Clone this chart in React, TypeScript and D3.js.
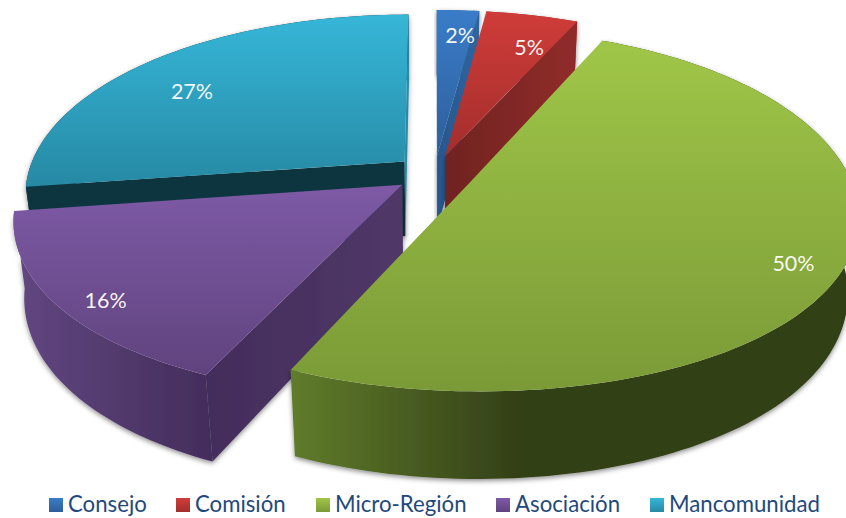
import React from "react";
import * as d3 from "d3";

const categories = ["Consejo", "Comisión", "Micro-Región", "Asociación", "Mancomunidad"];
const shares = [2.1, 4.6, 50, 16, 27.3];

const topColors = [
  ["#3a7cc8", "#2d5f9b"],
  ["#cf3c39", "#a32e2c"],
  ["#a0c648", "#7a9a37"],
  ["#7e5aa6", "#60437e"],
  ["#36b6d8", "#2689a4"],
];
const outerColors = [
  ["#2a5a92", "#2a5a92"],
  ["#8f2b29", "#8f2b29"],
  ["#607c2b", "#333f17"],
  ["#60467f", "#432d5b"],
  ["#11343f", "#11343f"],
];
const startWallColors = [
  ["#2a5a92", "#2a5a92"],
  ["#7a2523", "#7a2523"],
  ["#5a7528", "#5a7528"],
  ["#432d5b", "#503868"],
  ["#11363f", "#11363f"],
];
const endWallColors = [
  ["#28568c", "#2f659f"],
  ["#702321", "#912c2a"],
  ["#5a7528", "#5a7528"],
  ["#432d5b", "#432d5b"],
  ["#2a8ba7", "#2a8ba7"],
];
const labelNudge = [[5, -8], [9, 0], [7, 1], [-9, 0], [4, 2]];

const W = 846;
const H = 518;
const CX = 434.5;
const CY = 173.5;
const RX = 377;
const RY = 174;
const DEPTH = 76;
const PERSP_X = 0.173;
const PERSP_XQ = -0.019;
const PERSP_Y = 0.16;
const PERSP_HX = 0.025;
const PERSP_HY = 0.01;
const EXPLODE = 0.106;
const LABEL_R = 0.85;
const LABEL_H = 0.2;

type P = [number, number];

function project(wx: number, wz: number, h: number): P {
  const sx = 1 / (1 + PERSP_X * wz + PERSP_XQ * wz * wz + PERSP_HX * h);
  const sy = 1 / (1 + PERSP_Y * wz + PERSP_HY * h);
  return [CX + RX * wx * sx, CY - RY * wz * sy + DEPTH * h * sy];
}

const slices = d3.pie<number>().sort(null).value((d) => d)(shares);
const line = d3.line<P>();

function geom(start: number, end: number) {
  const mid = (start + end) / 2;
  const ox = EXPLODE * Math.sin(mid);
  const oz = EXPLODE * Math.cos(mid);
  const at = (a: number, r: number, h: number) =>
    project(ox + r * Math.sin(a), oz + r * Math.cos(a), h);
  const n = Math.max(8, Math.ceil((end - start) * 40));
  const angle = d3.scaleLinear().domain([0, n]).range([start, end]);
  const arc = (h: number) => d3.range(n + 1).map((i) => at(angle(i), 1, h));
  const apex = (h: number) => at(0, 0, h);
  return { mid, at, arc, apex };
}

function Gradient({ id, c }: { id: string; c: string[] }) {
  return (
    <linearGradient id={id} x1="0" y1="0" x2="1" y2="0">
      <stop offset="0" stopColor={c[0]} />
      <stop offset="1" stopColor={c[1]} />
    </linearGradient>
  );
}

export default function App() {
  const svgStyle: React.CSSProperties = { position: "absolute", left: 0, top: 0, display: "block" };
  const items = slices.map((s, i) => ({ s, i, g: geom(s.startAngle, s.endAngle) }));
  const order = [4, 0, 1, 3, 2];
  const legendX = [49, 176, 316, 496, 650];
  return (
    <svg width={W} height={H} style={svgStyle} fontFamily="Lato, Carlito, sans-serif">
      <defs>
        <filter id="soft" x="-5%" y="-5%" width="110%" height="110%">
          <feDropShadow dx="0" dy="2" stdDeviation="2.5" floodColor="#000" floodOpacity="0.45" />
        </filter>
        {topColors.map((c, i) => (
          <linearGradient key={i} id={`top${i}`} x1="0" y1="0" x2="0" y2="1">
            <stop offset="0" stopColor={c[0]} />
            <stop offset="1" stopColor={c[1]} />
          </linearGradient>
        ))}
        {endWallColors.map((c, i) => <Gradient key={i} id={`end${i}`} c={c} />)}
        {startWallColors.map((c, i) => <Gradient key={i} id={`start${i}`} c={c} />)}
        {outerColors.map((c, i) => {
          const xs = items[i].g.arc(1).map((p) => p[0]);
          return (
            <linearGradient key={i} id={`outer${i}`} gradientUnits="userSpaceOnUse"
              x1={i === 2 ? 290 : d3.min(xs)} y1="0" x2={i === 2 ? 520 : d3.max(xs)} y2="0">
              <stop offset="0" stopColor={c[0]} />
              <stop offset="1" stopColor={c[1]} />
            </linearGradient>
          );
        })}
      </defs>

      {order.map((i) => {
        const { g } = items[i];
        const top = g.arc(0);
        const bottom = g.arc(1);
        const a0 = g.apex(0);
        const a1 = g.apex(1);
        const startWall: P[] = [a0, top[0], bottom[0], a1];
        const endWall: P[] = [a0, top[top.length - 1], bottom[bottom.length - 1], a1];
        const outer: P[] = [...top, ...bottom.slice().reverse()];
        const face: P[] = [a0, ...top];
        return (
          <g key={i}>
            <g filter="url(#soft)">
              <path d={line(outer)! + "Z"} fill={`url(#outer${i})`} />
              {d3.polygonArea(startWall) > 0 && <path d={line(startWall)! + "Z"} fill={`url(#start${i})`} />}
              {d3.polygonArea(endWall) < 0 && <path d={line(endWall)! + "Z"} fill={`url(#end${i})`} />}
            </g>
            <path d={line(face)! + "Z"} fill={`url(#top${i})`} />
          </g>
        );
      })}

      {items.map(({ g, s, i }) => {
        const [x, y] = g.at(g.mid, LABEL_R, LABEL_H);
        return (
          <text key={i} x={x + labelNudge[i][0]} y={y + labelNudge[i][1]} fill="#fff" fillOpacity={0.95}
            fontSize={21.5} textAnchor="middle" dominantBaseline="central">
            {`${Math.round(s.data)}%`}
          </text>
        );
      })}

      {categories.map((c, i) => (
        <g key={c}>
          <rect x={legendX[i]} y={498} width={14} height={14} fill={`url(#top${i})`} />
          <text x={legendX[i] + 19} y={512} fill="#1f497d" fontSize={22.2}>{c}</text>
        </g>
      ))}
    </svg>
  );
}
